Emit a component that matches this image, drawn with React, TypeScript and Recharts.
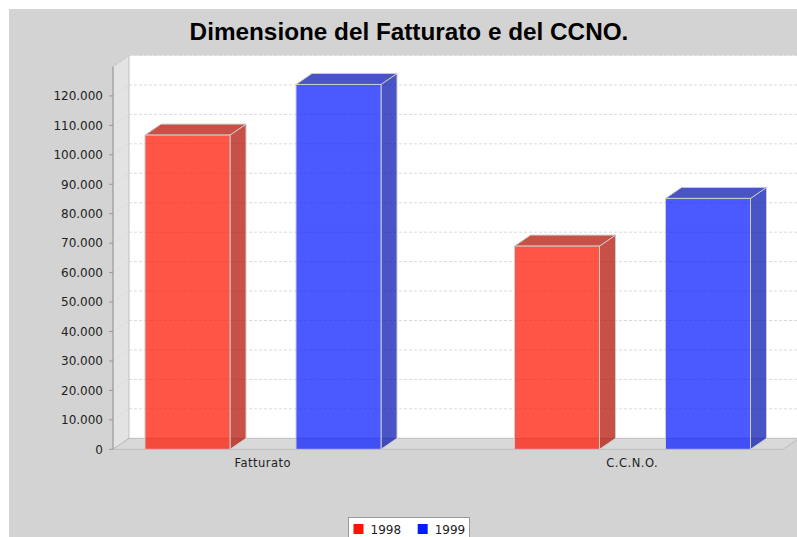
import React from 'react';
import { BarChart, Bar, XAxis, YAxis, CartesianGrid, Legend } from 'recharts';

// ---- data ----
const CATEGORIES = ['Fatturato', 'C.C.N.O.'];
const SERIES_NAMES = ['1998', '1999'];
const VALUES_1998 = [106700, 69000];
const VALUES_1999 = [123900, 85200];
const Y_TICKS = [0, 10000, 20000, 30000, 40000, 50000, 60000, 70000, 80000, 90000, 100000, 110000, 120000];
const Y_MAX = 130000;
const TITLE = 'Dimensione del Fatturato e del CCNO.';

const data = CATEGORIES.map((name, i) => ({
  name,
  [SERIES_NAMES[0]]: VALUES_1998[i],
  [SERIES_NAMES[1]]: VALUES_1999[i],
}));

// ---- layout / style ----
const W = 789;
const H = 529;
const PLOT_LEFT = 105;
const PLOT_RIGHT = 775;
const PLOT_TOP = 58.5;
const PLOT_BOTTOM = 441.3;
const XAXIS_H = 30;
const DX = 16;
const DY = 11;
const BG = '#d3d3d3';
const WALL = '#e3e3e3';
const FLOOR = '#d9d9d9';
const EDGE = '#b5b5b5';
const GRID = '#dadada';
const COLORS = ['#ff1300', '#051aff'];
const DARK = ['#b20d00', '#0312b2'];
const ALPHA = 0.72;
const OUTLINE = '#cccccc';
const FONT = '"DejaVu Sans", sans-serif';

const fmt = (v: number) => String(v).replace(/\B(?=(\d{3})+(?!\d))/g, '.');

function make3DShape(idx: number) {
  return (p: any) => {
    const { x, y, width, height } = p;
    if (width == null || height == null) return <g />;
    const top = `${x},${y} ${x + DX},${y - DY} ${x + width + DX},${y - DY} ${x + width},${y}`;
    const side = `${x + width},${y} ${x + width + DX},${y - DY} ${x + width + DX},${y + height - DY} ${x + width},${y + height}`;
    return (
      <g>
        <polygon points={side} fill={DARK[idx]} fillOpacity={ALPHA} stroke={OUTLINE} strokeWidth={1} />
        <polygon points={top} fill={DARK[idx]} fillOpacity={ALPHA} stroke={OUTLINE} strokeWidth={1} />
        <rect x={x} y={y} width={width} height={height} fill={COLORS[idx]} fillOpacity={ALPHA} stroke={OUTLINE} strokeWidth={1} />
      </g>
    );
  };
}

const gridLine = (p: any) => {
  const { x1, y1, x2 } = p;
  if (Math.abs(y1 - PLOT_BOTTOM) < 1) return <g key={p.key} />;
  return (
    <g key={p.key}>
      <line x1={x1} y1={y1} x2={x1 + DX} y2={y1 - DY} stroke={GRID} strokeDasharray="3 2" />
      <line x1={x1 + DX} y1={y1 - DY} x2={x2 + DX} y2={y1 - DY} stroke={GRID} strokeDasharray="3 2" />
    </g>
  );
};

const renderLegend = (props: any) => {
  const payload = props.payload || [];
  return (
    <div style={{ position: 'absolute', left: 340, top: 509, width: 122, height: 24, background: '#fff', border: '1px solid #9a9a9a', boxSizing: 'border-box' }}>
      <svg width={122} height={24} style={{ position: 'absolute', left: -1, top: -1 }}>
        {payload.map((e: any, i: number) => (
          <g key={i} transform={`translate(${5.5 + i * 64.2},0)`}>
            <rect x={0} y={7} width={10} height={10} fill={e.color} />
            <text x={17} y={16.5} fontFamily={FONT} fontSize={12} fill="#222">{e.value}</text>
          </g>
        ))}
      </svg>
    </div>
  );
};

export default function App() {
  const floor = `${PLOT_LEFT},${PLOT_BOTTOM} ${PLOT_LEFT + DX},${PLOT_BOTTOM - DY} ${PLOT_RIGHT + DX},${PLOT_BOTTOM - DY} ${PLOT_RIGHT},${PLOT_BOTTOM}`;
  const wall = `${PLOT_LEFT},${PLOT_TOP} ${PLOT_LEFT + DX},${PLOT_TOP - DY} ${PLOT_LEFT + DX},${PLOT_BOTTOM - DY} ${PLOT_LEFT},${PLOT_BOTTOM}`;
  return (
    <div style={{ position: 'fixed', left: 8, top: 8, width: W + 12, height: H, overflow: 'visible' }}>
      <style>{'html, body { overflow: hidden; }'}</style>
      <svg width={W + 12} height={H} style={{ position: 'absolute', left: 0, top: 0 }}>
        <rect x={1} y={1} width={W + 11} height={H} fill={BG} />
        <text x={401} y={31.5} textAnchor="middle" fontFamily='"Liberation Sans", Arial, sans-serif' fontWeight="bold" fontSize={24.3} fill="#000">{TITLE}</text>
        <rect x={PLOT_LEFT + DX} y={PLOT_TOP - DY} width={PLOT_RIGHT - PLOT_LEFT} height={PLOT_BOTTOM - PLOT_TOP} fill="#fff" />
        <polygon points={wall} fill={WALL} stroke={EDGE} strokeWidth={0.8} />
        <polygon points={floor} fill={FLOOR} stroke={EDGE} strokeWidth={0.8} />
      </svg>
      <div style={{ position: 'absolute', left: 0, top: 0 }}>
        <BarChart
          width={W}
          height={H}
          data={data}
          margin={{ top: PLOT_TOP, right: W - PLOT_RIGHT, bottom: H - PLOT_BOTTOM - XAXIS_H, left: 0 }}
          barGap={66}
        >
          <CartesianGrid vertical={false} horizontal={gridLine} />
          <XAxis
            dataKey="name"
            height={XAXIS_H}
            axisLine={false}
            tickLine={false}
            tickSize={0}
            tickMargin={9.5}
            padding={{ left: -35, right: -34 }}
            tick={{ fontFamily: FONT, fontSize: 11.5, fill: '#222', letterSpacing: 0.5 }}
            interval={0}
          />
          <YAxis
            width={PLOT_LEFT}
            domain={[0, Y_MAX]}
            ticks={Y_TICKS}
            tickFormatter={fmt}
            axisLine={{ stroke: '#999' }}
            tickLine={{ stroke: '#999' }}
            tickSize={4}
            tickMargin={6}
            tick={{ fontFamily: FONT, fontSize: 12, fill: '#222' }}
            allowDataOverflow
          />
          <Legend content={renderLegend} wrapperStyle={{ left: 0, top: 0, bottom: 'auto', width: 0, height: 0 }} />
          {SERIES_NAMES.map((s, i) => (
            <Bar key={s} dataKey={s} name={s} fill={COLORS[i]} barSize={85} isAnimationActive={false} legendType="square" shape={make3DShape(i)} />
          ))}
        </BarChart>
      </div>
    </div>
  );
}
